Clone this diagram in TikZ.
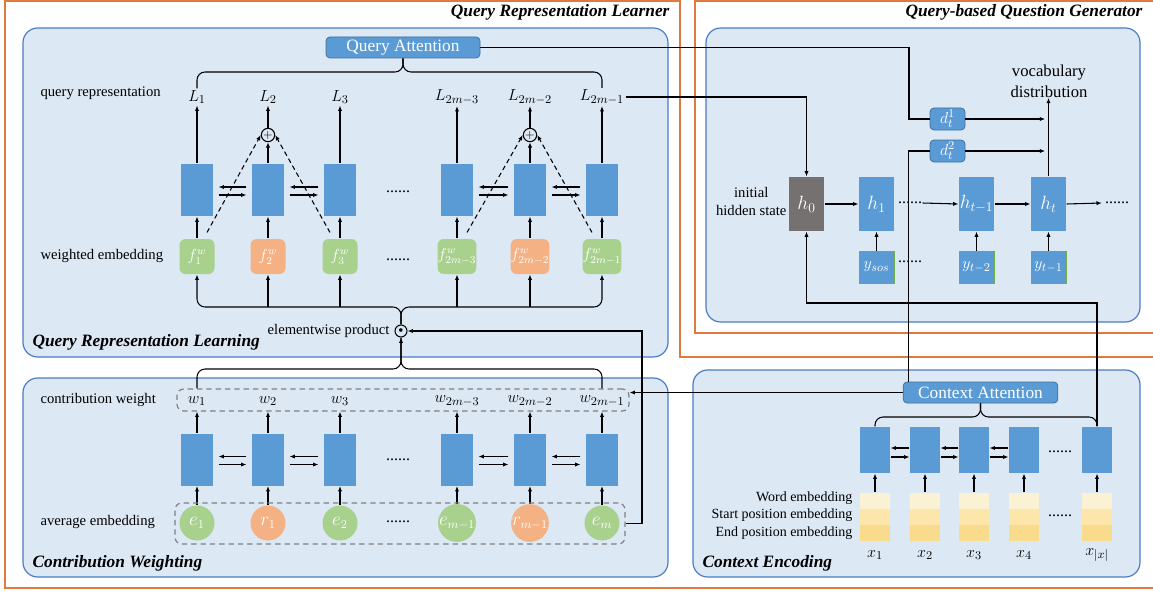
\documentclass[tikz,border=0pt]{standalone}
\usepackage{fontspec}
\setmainfont{Liberation Serif}
\usepackage{tikz}
\usetikzlibrary{arrows.meta,calc,positioning}
\definecolor{panelfill}{HTML}{DDE8F5}
\definecolor{paneldraw}{HTML}{4A7BC8}
\definecolor{framec}{HTML}{E07A3C}
\definecolor{cellblue}{HTML}{5B9BD5}
\definecolor{celldark}{HTML}{41719C}
\definecolor{embgreen}{HTML}{A9D18E}
\definecolor{emborange}{HTML}{F4B183}
\definecolor{hzero}{HTML}{767171}
\definecolor{ygreen}{HTML}{70AD47}
\definecolor{bandA}{HTML}{FBF1D3}
\definecolor{bandB}{HTML}{FCE6AA}
\definecolor{bandC}{HTML}{F8DB8C}
\tikzset{
  learner/.style={draw=framec,line width=1.6pt},
  panel/.style={fill=panelfill,draw=paneldraw,line width=0.9pt,rounded corners=11pt},
  cell/.style={fill=cellblue,inner sep=0pt,minimum width=24pt,minimum height=39pt},
  ccell/.style={cell,minimum width=22.5pt,minimum height=34.5pt},
  hcell/.style={cell,minimum width=26.25pt,minimum height=40.5pt,text=white,font=\fontsize{14}{16}\selectfont},
  ycell/.style={hcell,draw=ygreen,line width=0.6pt,minimum height=24pt,font=\fontsize{13}{15}\selectfont},
  fbox/.style={rounded corners=4.5pt,minimum size=26.25pt,inner sep=0pt,text=white,font=\fontsize{12}{14}\selectfont},
  ebub/.style={circle,minimum size=26.25pt,inner sep=0pt,text=white,font=\fontsize{13.5}{15}\selectfont},
  att/.style={fill=cellblue,draw=celldark,line width=0.6pt,rounded corners=3pt,text=white,inner sep=0pt,minimum height=15.75pt,font=\fontsize{13}{15}\selectfont},
  dcell/.style={att,minimum width=26.25pt,minimum height=16.5pt,font=\fontsize{12.5}{14}\selectfont},
  band/.style={inner sep=0pt,minimum width=22.5pt,minimum height=12pt},
  dbox/.style={draw=gray,dash pattern=on 4pt off 3pt,line width=0.9pt,rounded corners=5pt,inner sep=0pt},
  op/.style={circle,draw,line width=0.8pt,inner sep=0pt,minimum size=10pt},
  mlab/.style={inner sep=1pt,font=\fontsize{13}{15}\selectfont},
  lab/.style={inner sep=0pt,font=\fontsize{11}{13.5}\selectfont},
  elab/.style={inner sep=0pt,font=\fontsize{10.5}{12}\selectfont},
  ttl/.style={inner sep=0pt,font=\fontsize{13}{15}\selectfont\bfseries\itshape},
  etc/.style={inner sep=0pt,font=\fontsize{12}{14}\selectfont},
  dsh/.style={dash pattern=on 3.5pt off 2.5pt},
  >={Latex[length=4pt,width=3.2pt]}
}

\begin{document}
\begin{tikzpicture}[x=0.75pt,y=-0.75pt,line width=0.8pt]
\useasboundingbox (0,0) rectangle (1153,592);
% outer frames
\draw[learner] (1160,357) -- (680,357) -- (680,1) -- (5,1) -- (5,588) -- (1160,588);
\draw[learner] (1160,333) -- (695,333) -- (695,1) -- (1160,1);
\node[ttl,anchor=east] (tlearner) at (670,12) {Query Representation Learner};
\node[ttl,anchor=east] (tgen) at (1143,12) {Query-based Question Generator};
% panels
\draw[panel] (23,28) rectangle (668,357);
\draw[panel] (23,378) rectangle (668,577);
\draw[panel] (706,28) rectangle (1140,322);
\draw[panel] (693,370) rectangle (1140,577);
\node[ttl,anchor=west] (tqrl) at (32,342) {Query Representation Learning};
\node[ttl,anchor=west] (tcw) at (32,563) {Contribution Weighting};
\node[ttl,anchor=west] (tce) at (702,563) {Context Encoding};

% query representation learning
\node[lab,anchor=west] (lqr) at (40,93) {query representation};
\node[lab,anchor=west] (lwe) at (40,256) {weighted embedding};
\node[lab,anchor=west] (lcw) at (40,400) {contribution weight};
\node[lab,anchor=west] (lae) at (40,522) {average embedding};
\node[att,minimum width=115.5pt] (qatt) at (403,47.5) {Query Attention};
\foreach \i/\x/\sub/\col in {1/197/1/embgreen,2/268/2/emborange,3/340/3/embgreen,
    4/457/{2m-3}/embgreen,5/530/{2m-2}/emborange,6/602/{2m-1}/embgreen}{
  \node[mlab] (L\i) at (\x,97) {$L_{\sub}$};
  \node[cell] (q\i) at (\x,190) {};
  \node[fbox,fill=\col] (f\i) at (\x,256.5) {$f^{w}_{\sub}$};
  \node[mlab] (w\i) at (\x,401) {$w_{\sub}$};
  \node[cell] (c\i) at (\x,459.5) {};
  \draw[->] (f\i.north) -- (q\i.south);
}
\foreach \i/\x/\lbl/\col in {1/197/e_1/embgreen,2/268/r_1/emborange,3/340/e_2/embgreen,
    4/457/e_{m-1}/embgreen,5/530/r_{m-1}/emborange,6/602/e_m/embgreen}{
  \node[ebub,fill=\col] (e\i) at (\x,523) {$\lbl$};
  \draw[->] (e\i.north) -- (c\i.south);
}
\node[op] (p2) at (268,135) {\fontsize{9}{9}\selectfont$+$};
\node[op] (p5) at (530,135) {\fontsize{9}{9}\selectfont$+$};
\node[op,minimum size=9pt] (odot) at (401,331) {\fontsize{6}{6}\selectfont$\bullet$};
\node[lab,anchor=east] (lep) at (390,331) {elementwise product};
\node[etc] (qd1) at (398,192) {......};
\node[etc] (qd2) at (398,260) {......};
\node[etc] (cd1) at (398,460) {......};
\node[etc] (cd2) at (398,522) {......};
\node[dbox,minimum width=339pt,minimum height=16.5pt] (wbox) at (403,400) {};
\node[dbox,minimum width=337.5pt,minimum height=30.75pt] (ebox) at (400,523.5) {};
\coordinate (qb) at (0,72);
\coordinate (fb) at (0,307);
\coordinate (wb) at (0,369);
\coordinate (ej) at (642,0);

\foreach \i in {1,3,4,6}{
  \draw[->] (q\i.north) -- (L\i.south);
}
\foreach \i in {2,5}{
  \draw[->] (q\i.north) -- (p\i.south);
  \draw[->] (p\i.north) -- (L\i.south);
}
\foreach \i in {1,...,6}{
  \draw[->] (c\i.north) -- (c\i.north |- wbox.south);
}
\draw[dsh,->] ($(f1.north)+(10,-6)$) -- (p2.west);
\draw[dsh,->] ($(f3.north)+(-10,-6)$) -- (p2.east);
\draw[dsh,->] ($(f4.north)+(10,-6)$) -- (p5.west);
\draw[dsh,->] ($(f6.north)+(-10,-6)$) -- (p5.east);
\foreach \a/\b in {1/2,2/3,4/5,5/6}{
  \draw[->,shorten <=3.75pt,shorten >=3.75pt] ([yshift=2.25pt]q\b.west) -- ([yshift=2.25pt]q\a.east);
  \draw[->,shorten <=3.75pt,shorten >=3.75pt] ([yshift=-3.75pt]q\a.east) -- ([yshift=-3.75pt]q\b.west);
  \draw[->,shorten <=3.75pt,shorten >=3.75pt] ([yshift=2.25pt]c\b.west) -- ([yshift=2.25pt]c\a.east);
  \draw[->,shorten <=3.75pt,shorten >=3.75pt] ([yshift=-3.75pt]c\a.east) -- ([yshift=-3.75pt]c\b.west);
}
% braces
\draw[rounded corners=6pt] (L1.north) |- (qb -| qatt.south) -- (qatt.south);
\draw[rounded corners=6pt] (L6.north) |- (qb -| qatt.south) -- (qatt.south);
\draw[->,rounded corners=6pt] (odot.north) |- (fb -| f1.south) -- (f1.south);
\draw[->,rounded corners=6pt] (odot.north) |- (fb -| f6.south) -- (f6.south);
\foreach \i in {2,...,5}{
  \draw[->] (f\i.south |- fb) -- (f\i.south);
}
\draw[->,rounded corners=6pt] (wbox.north -| w1) |- (wb -| odot.south) -- (odot.south);
\draw[rounded corners=6pt] (wbox.north -| w6) |- (wb -| odot.south) -- (odot.south);
\draw[->] (ebox.east) -| (odot.east -| ej) -- (odot.east);

% context encoding
\node[att,minimum width=116pt] (catt) at (980.5,392.5) {Context Attention};
\foreach \i/\x/\sub in {1/875/1,2/925/2,3/974/3,4/1024/4,5/1097/{|x|}}{
  \node[ccell] (ce\i) at (\x,450) {};
  \node[band,fill=bandA] (wd\i) at (\x,501) {};
  \node[band,fill=bandB] (sp\i) at (\x,517) {};
  \node[band,fill=bandC] (ep\i) at (\x,533) {};
  \node[mlab] (x\i) at (\x,555) {$x_{\sub}$};
  \draw[->] (wd\i.north) -- (ce\i.south);
}
\foreach \a/\b in {1/2,2/3,3/4}{
  \draw[->] ([yshift=1.5pt]ce\b.west) -- ([yshift=1.5pt]ce\a.east);
  \draw[->] ([yshift=-5.25pt]ce\a.east) -- ([yshift=-5.25pt]ce\b.west);
}
\node[etc] (ced1) at (1060,452) {......};
\node[etc] (ced2) at (1060,516) {......};
\node[elab,anchor=east] (lwd) at (853,498) {Word embedding};
\node[elab,anchor=east] (lsp) at (853,515.5) {Start position embedding};
\node[elab,anchor=east] (lep2) at (853,533) {End position embedding};
\coordinate (cb) at (0,417);
\draw[rounded corners=6pt] (ce1.north) |- (cb -| catt.south) -- (catt.south);
\draw[rounded corners=6pt] (ce5.north) |- (cb -| catt.south) -- (catt.south);
\draw[->] (catt.west) -- (catt.west -| wbox.east);

% question generator
\node[hcell,fill=hzero] (h0) at (806.5,204) {$h_0$};
\node[hcell] (h1) at (876.5,204) {$h_1$};
\node[hcell] (htm1) at (976.5,204) {$h_{t-1}$};
\node[hcell] (ht) at (1048.5,204) {$h_t$};
\node[ycell] (ysos) at (876.5,267) {$y_{sos}$};
\node[ycell] (ytm2) at (976.5,267) {$y_{t-2}$};
\node[ycell] (ytm1) at (1048.5,267) {$y_{t-1}$};
\node[etc] (hd1) at (910,203) {......};
\node[etc] (hd2) at (1117,203) {......};
\node[etc] (yd1) at (910,262) {......};
\node[lab,anchor=east,align=center] (lih) at (787,201) {initial\\hidden state};
\node[dcell] (d1) at (947.5,119) {$d_t^1$};
\node[dcell] (d2) at (947.5,151) {$d_t^2$};
\node[inner sep=0pt,align=center,font=\fontsize{12.5}{15.75}\selectfont] (vocab) at (1049,81) {vocabulary\\distribution};
\coordinate (jq) at (909,0);
\coordinate (hb) at (0,303);
\draw[->] (h0) -- (h1);
\draw[->] (hd1.east) -- (htm1.west);
\draw[->] (htm1) -- (ht);
\draw[->] (ht.east) -- ([xshift=-2pt]hd2.west);
\draw[->] (ysos) -- (h1);
\draw[->] (ytm2) -- (htm1);
\draw[->] (ytm1) -- (ht);
\draw[->] (ht.north) -- (ht.north |- vocab.south);
\draw (qatt.east) -| (d1.west -| jq) -- (d1.west);
\draw[->,shorten >=2.5pt] (d1.east) -- (d1.east -| ht.north);
\draw ([xshift=4.5pt]catt.north west) |- (d2.west);
\draw[->,shorten >=2.5pt] (d2.east) -- (d2.east -| ht.north);
\draw[->] (L6.east) -| (h0.north);
\draw[->] (ce5.north) -- (ce5.north |- hb) -| (h0.south);
\end{tikzpicture}
\end{document}
